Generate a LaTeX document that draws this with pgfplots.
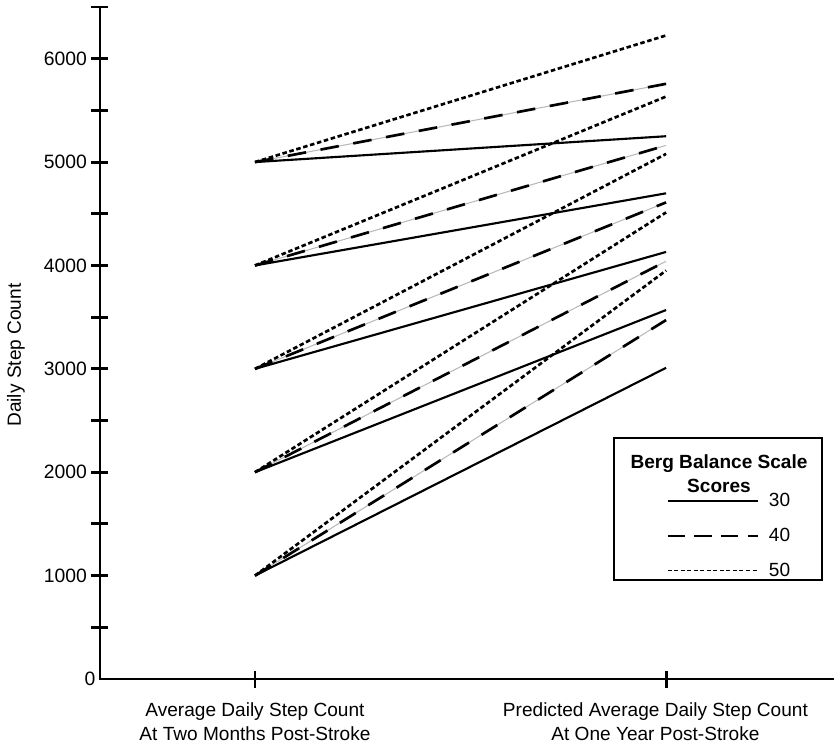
\documentclass[border=0pt]{standalone}
\usepackage{pgfplots}
\pgfplotsset{compat=1.18}
\usepackage{fontspec}
\setmainfont{Liberation Sans}
\begin{document}
\begin{tikzpicture}
\begin{axis}[
  scale only axis, width=549.75pt, height=504pt,
  xmin=-0.377, xmax=1.406, ymin=0, ymax=6500,
  axis x line=bottom, axis y line=left,
  axis line style={-, line width=2.2pt, line cap=rect},
  xtick={0,1},
  xticklabels={{Average Daily Step Count\\At Two Months Post-Stroke},{\hspace*{-16pt}Predicted Average Daily Step Count\\\hspace*{-16pt}At One Year Post-Stroke}},
  xticklabel style={align=center, yshift=-8pt, font=\fontsize{14.3pt}{18pt}\selectfont},
  ytick={1000,2000,3000,4000,5000,6000},
  minor ytick={500,1500,2500,3500,4500,5500,6500},
  extra y ticks={0}, extra y tick style={major tick length=0pt},
  tick align=center, major tick length=12.75pt, minor tick length=12.75pt,
  every tick/.style={black, line width=2.2pt},
  /pgf/number format/assume math mode=true,
  /pgf/number format/1000 sep={},
  yticklabel style={font=\fontsize{14.5pt}{17pt}\selectfont},
  unbounded coords=jump,
  ylabel={Daily Step Count},
  ylabel style={at={(axis description cs:-0.1146,0.482)}, anchor=center, font=\fontsize{14.3pt}{17pt}\selectfont},
  legend style={draw=none, fill=none, at={(rel axis cs:0.7722,0.2785)}, anchor=north west,
    font=\fontsize{14.3pt}{17pt}\selectfont, row sep=12.6pt, inner sep=0pt,
    nodes={inner sep=1pt},
    /tikz/every odd column/.append style={column sep=6pt}},
  legend cell align=left,
]
\addplot[black, line width=1.6pt,
  legend image code/.code={\draw[black, line width=1.6pt] (0pt,0pt) -- (68pt,0pt);}]
  coordinates {(0,1000) (1,3010) (0,nan)
               (0,2000) (1,3569) (0,nan)
               (0,3000) (1,4131) (0,nan)
               (0,4000) (1,4698) (0,nan)
               (0,5000) (1,5250)};
\addlegendentry{30}
\addplot[gray!55, line width=0.8pt, forget plot]
  coordinates {(0,1000) (1,3472) (0,nan)
               (0,2000) (1,4041) (0,nan)
               (0,3000) (1,4610) (0,nan)
               (0,4000) (1,5161) (0,nan)
               (0,5000) (1,5757)};
\addplot[black, line width=2pt, dash pattern=on 14pt off 11pt,
  legend image code/.code={\draw[black, line width=2pt, dash pattern=on 13pt off 7pt] (0pt,0pt) -- (68pt,0pt);}]
  coordinates {(0,1000) (1,3472) (0,nan)
               (0,2000) (1,4041) (0,nan)
               (0,3000) (1,4610) (0,nan)
               (0,4000) (1,5161) (0,nan)
               (0,5000) (1,5757)};
\addlegendentry{40}
\addplot[black, line width=2pt, dash pattern=on 3.4pt off 2pt,
  legend image code/.code={\draw[black, line width=1pt, dash pattern=on 3pt off 1.9pt] (0pt,0pt) -- (68pt,0pt);}]
  coordinates {(0,1000) (1,3951) (0,nan)
               (0,2000) (1,4513) (0,nan)
               (0,3000) (1,5079) (0,nan)
               (0,4000) (1,5634) (0,nan)
               (0,5000) (1,6225)};
\addlegendentry{50}
\draw[black, line width=1.5pt] (rel axis cs:0.701,0.1473) rectangle (rel axis cs:0.985,0.3586);
\node[font=\bfseries\fontsize{14.3pt}{18pt}\selectfont, align=center, anchor=north]
  at (rel axis cs:0.8445,0.3410) {Berg Balance Scale\\Scores};
\coordinate (SW) at (rel axis cs:0,0);
\end{axis}
\pgfresetboundingbox
\path (SW) ++(-75pt,509.25pt) rectangle ++(628.5pt,-562.5pt);
\end{tikzpicture}
\end{document}
